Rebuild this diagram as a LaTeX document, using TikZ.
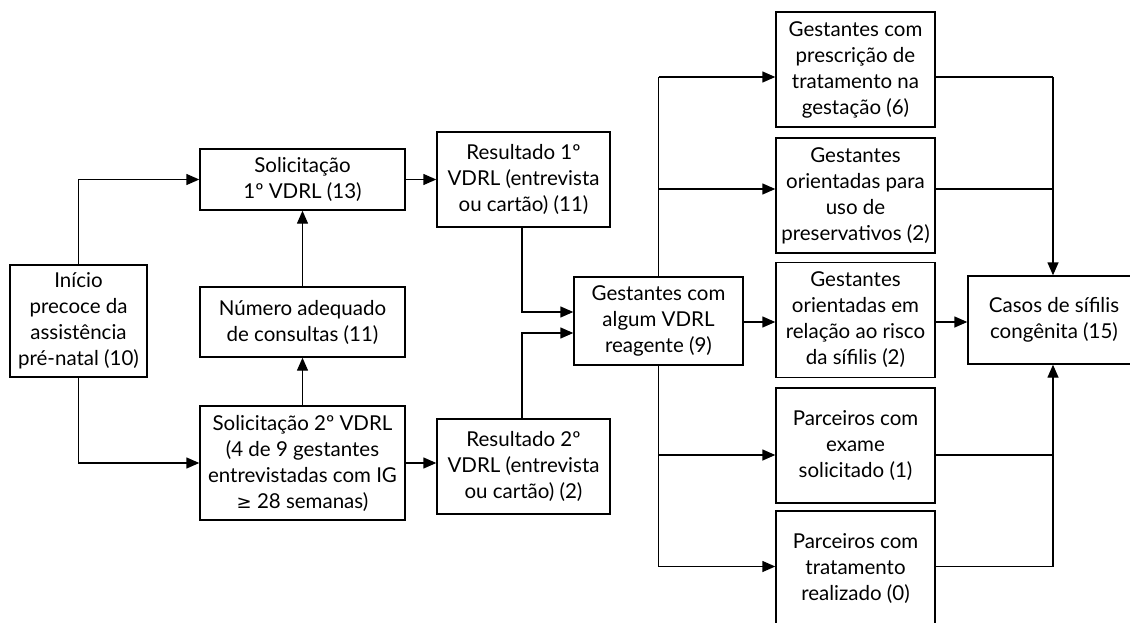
\documentclass[tikz,border=0pt]{standalone}
\usepackage{fontspec}
\setmainfont{Lato}
\newfontfamily\symfont{DejaVu Sans}
\usetikzlibrary{arrows.meta,calc}
\begin{document}
\begin{tikzpicture}[x=1pt,y=-1pt,
  box/.style={draw,line width=1.4pt,align=center,inner sep=0pt,
    font=\fontsize{20.5}{26}\selectfont},
  conn/.style={line width=1.4pt},
  arr/.style={conn,-{Triangle[length=13pt,width=11pt]}}]
\useasboundingbox (0,0) rectangle (1130,623);
\clip (0,0) rectangle (1130,623);
\fill[white] (0,0) rectangle (1130,623);
% left column
\node[box,minimum width=137pt,minimum height=112pt] (inicio) at (78.5,321) {Início\\precoce da\\assistência\\pré-natal (10)};
\node[box,minimum width=205pt,minimum height=61pt] (sol1) at (302.5,179.5) {Solicitação\\1º VDRL (13)};
\node[box,minimum width=205pt,minimum height=70pt] (num) at (302.5,322) {Número adequado\\de consultas (11)};
\node[box,minimum width=205pt,minimum height=114pt] (sol2) at (302.5,463) {Solicitação 2º VDRL\\(4 de 9 gestantes\\entrevistadas com IG\\{\symfont\fontsize{18}{26}\selectfont ≥} 28 semanas)};
\node[box,minimum width=173pt,minimum height=95pt] (res1) at (523.5,179.5) {Resultado 1º\\VDRL (entrevista\\ou cartão) (11)};
\node[box,minimum width=173pt,minimum height=95pt] (res2) at (523.5,466.5) {Resultado 2º\\VDRL (entrevista\\ou cartão) (2)};
\node[box,minimum width=169pt,minimum height=88pt] (gest) at (658.5,321) {Gestantes com\\algum VDRL\\reagente (9)};
% right column
\node[box,minimum width=159pt,minimum height=115pt] (b1) at (855.5,69.5) {Gestantes com\\prescrição de\\tratamento na\\gestação (6)};
\node[box,minimum width=159pt,minimum height=115pt] (b2) at (855.5,195.5) {Gestantes\\orientadas para\\uso de\\preservativos (2)};
\node[box,minimum width=159pt,minimum height=115pt] (b3) at (855.5,320) {Gestantes\\orientadas em\\relação ao risco\\da sífilis (2)};
\node[box,minimum width=159pt,minimum height=115pt] (b4) at (855.5,445.5) {Parceiros com\\exame\\solicitado (1)};
\node[box,minimum width=159pt,minimum height=115pt] (b5) at (855.5,568.5) {Parceiros com\\tratamento\\realizado (0)};
\node[box,minimum width=172pt,minimum height=88pt] (casos) at (1054,320) {Casos de sífilis\\congênita (15)};
% coordinates
\coordinate (t1) at (658.5,77);
\coordinate (t2) at (658.5,189);
\coordinate (t4) at (658.5,455);
\coordinate (t5) at (658.5,566.5);
\coordinate (c1) at (1053,77);
\coordinate (c2) at (1053,189);
\coordinate (c4) at (1053,455);
\coordinate (c5) at (1053,566.5);
% left connectors
\draw[arr] (inicio.north) |- (sol1.west);
\draw[arr] (inicio.south) |- (sol2.west);
\draw[arr] (num.north) -- (sol1.south);
\draw[arr] (sol2.north) -- (num.south);
\draw[arr] (sol1.east) -- (res1.west |- sol1.east);
\draw[arr] (sol2.east) -- (res2.west |- sol2.east);
\draw[arr] (res1.south -| 522,0) |- (gest.west |- 0,312);
\draw[arr] (res2.north -| 522,0) |- (gest.west |- 0,333);
% trunk
\draw[conn] (gest.north) -- (t1);
\draw[conn] (gest.south) -- (t5);
\draw[arr] (t1) -- (b1.west |- t1);
\draw[arr] (t2) -- (b2.west |- t2);
\draw[arr] (gest.east |- 0,322) -- (b3.west |- 0,322);
\draw[arr] (t4) -- (b4.west |- t4);
\draw[arr] (t5) -- (b5.west |- t5);
% collector
\draw[conn] (b1.east |- c1) -- (c1);
\draw[conn] (b2.east |- c2) -- (c2);
\draw[arr] (c1) -- (casos.north -| c1);
\draw[arr] (b3.east |- 0,322) -- (casos.west |- 0,322);
\draw[conn] (b4.east |- c4) -- (c4);
\draw[conn] (b5.east |- c5) -- (c5);
\draw[arr] (c5) -- (casos.south -| c5);
\end{tikzpicture}
\end{document}
